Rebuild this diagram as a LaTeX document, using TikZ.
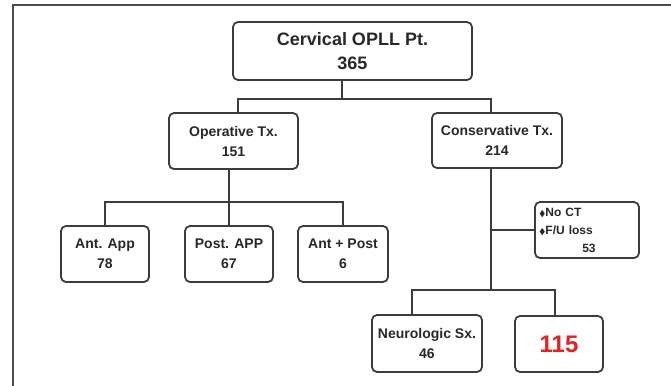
\documentclass[tikz,border=0pt]{standalone}
\usepackage{fontspec}
\usepackage{amssymb}
\setmainfont{Liberation Sans}
\usetikzlibrary{positioning,calc}
\definecolor{inkgrey}{RGB}{40,40,40}
\definecolor{linegrey}{RGB}{60,60,60}
\definecolor{hotred}{RGB}{232,32,32}
\newcommand{\dmd}{{\scalebox{0.7}{$\blacklozenge$}}}
\tikzset{
  flowbox/.style={rounded corners=2.5pt,draw=linegrey,line width=.9pt,fill=white,
    text=inkgrey,align=center,inner sep=1pt,
    font=\fontsize{7}{10}\selectfont\bfseries},
  link/.style={draw=linegrey,line width=.9pt},
  frameline/.style={draw=black!70,line width=1.1pt},
}
\begin{document}
\begin{tikzpicture}[x=0.5pt,y=-0.5pt]
  \useasboundingbox (0,0) rectangle (671,386);
  \draw[frameline] (13,386) -- (13,5) -- (671,5);
  % top level
  \node[flowbox,minimum width=119.5pt,minimum height=29pt,
        font=\fontsize{9}{12}\selectfont\bfseries] (pt) at (352.5,51)
    {Cervical OPLL Pt.\\365};
  \node[flowbox,minimum width=64.5pt,minimum height=28pt] (op)   at (233.5,141)
    {Operative Tx.\\151};
  \node[flowbox,minimum width=65pt,minimum height=27.5pt] (cons) at (497,140.5)
    {Conservative Tx.\\214};
  % operative branch
  \node[flowbox,minimum width=44pt,minimum height=28pt] (ant)  at (105,254) {Ant. App\\78};
  \node[flowbox,minimum width=44pt,minimum height=28pt] (post) at (229,254) {Post. APP\\67};
  \node[flowbox,minimum width=45pt,minimum height=28pt] (both) at (343,254) {Ant + Post\\6};
  % conservative branch
  \node[flowbox,minimum width=52pt,minimum height=28pt,text width=48pt,align=left,
        font=\fontsize{6}{9}\selectfont\bfseries] (loss) at (587,230)
    {\dmd No CT\\\dmd F/U loss\\\makebox[\linewidth][c]{\hspace{2pt}53}};
  \node[flowbox,minimum width=55pt,minimum height=28.5pt] (neuro) at (427,343.5)
    {Neurologic Sx.\\46};
  \node[flowbox,minimum width=44pt,minimum height=28pt,text=hotred,
        font=\fontsize{12}{14}\selectfont\bfseries] (rest) at (559,344) {115};
  % connectors
  \coordinate (hubA) at (342,99);
  \coordinate (hubB) at (229,202);
  \coordinate (hubC) at (491,290);
  \draw[link] (pt.south -| hubA) -- (hubA);
  \draw[link] ([xshift=2.25pt]op.north) |- (hubA) -| ([xshift=-3pt]cons.north);
  \draw[link] (op.south -| hubB) -- (hubB);
  \draw[link] (ant.north) |- (hubB) -| (both.north);
  \draw[link] (hubB) -- (post.north);
  \draw[link] (cons.south -| hubC) -- (hubC);
  \draw[link] (loss.west) -- (loss.west -| hubC);
  \draw[link] ([xshift=-7.5pt]neuro.north) |- (hubC) -| ([xshift=-2pt]rest.north);
\end{tikzpicture}
\end{document}
